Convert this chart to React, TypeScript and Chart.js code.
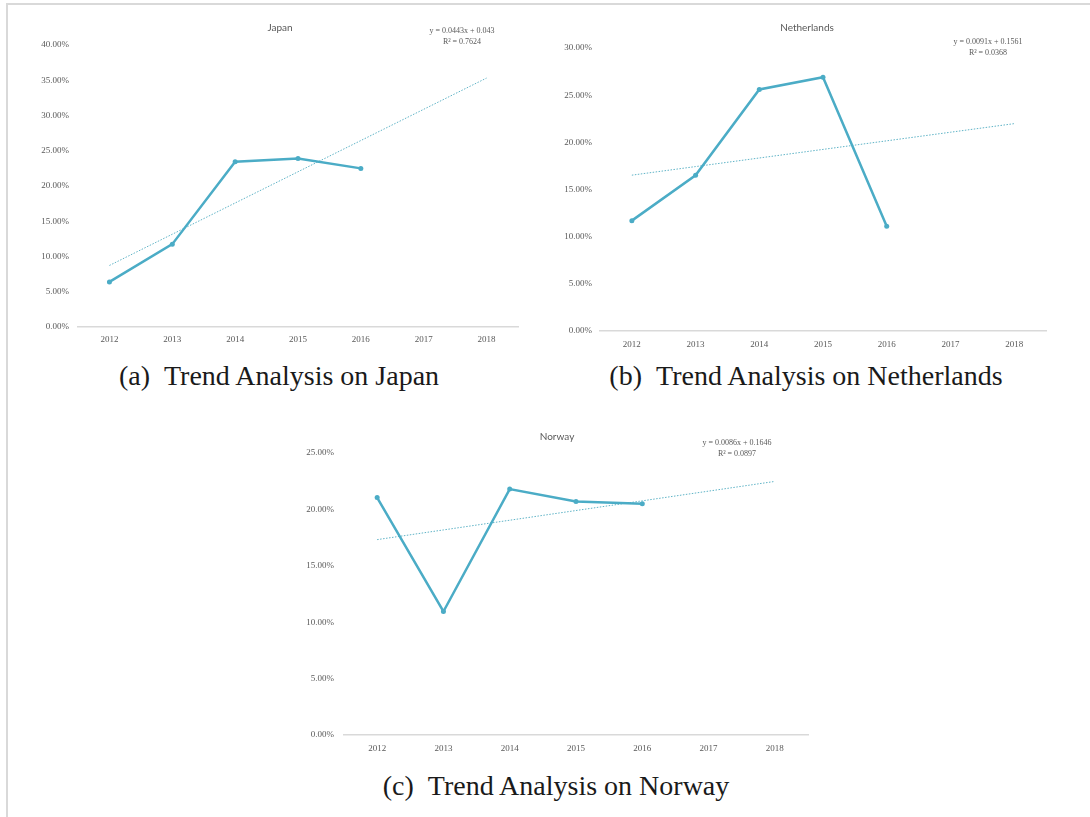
import React, { useEffect, useRef } from "react";
import { Chart, registerables } from "chart.js";

Chart.register(...registerables);

// Shared category axis
const years = ["2012", "2013", "2014", "2015", "2016", "2017", "2018"];

// Yearly values (fractions, shown as percentages)
const japanValues = [0.064, 0.1175, 0.2345, 0.239, 0.225, null, null];
const netherlandsValues = [0.117, 0.165, 0.256, 0.269, 0.111, null, null];
const norwayValues = [0.2105, 0.1095, 0.218, 0.207, 0.205, null, null];

// Linear trend lines: [slope, intercept], x = 1..7
const japanFit = [0.0443, 0.043];
const netherlandsFit = [0.0091, 0.1561];
const norwayFit = [0.0086, 0.1646];

// Coefficients of determination
const japanR2 = "0.7624";
const netherlandsR2 = "0.0368";
const norwayR2 = "0.0897";

// Y axis upper bounds
const japanMax = 0.4;
const netherlandsMax = 0.3;
const norwayMax = 0.25;

const LINE = "#4bacc6";
const TEXT = "#595959";

type Geo = {
  left: number;
  top: number;
  width: number;
  height: number;
  padLeft: number;
  padRight: number;
  padTop: number;
  padBottom: number;
  yWidth: number;
  yPad: number;
  xHeight: number;
  xPad: number;
  titleX: number;
  titleY: number;
  eqX: number;
  eqY: number;
};

const overlayPlugin = {
  id: "overlay",
  afterDraw(chart: any, _args: any, opts: any) {
    const ctx = chart.ctx;
    ctx.save();
    ctx.fillStyle = TEXT;
    ctx.textAlign = "center";
    ctx.textBaseline = "middle";
    ctx.font = "10px Lato";
    ctx.fillText(opts.title, opts.titleX, opts.titleY);
    ctx.font = "8px 'Liberation Serif'";
    ctx.fillText(opts.eq1, opts.eqX, opts.eqY);
    ctx.fillText(opts.eq2, opts.eqX, opts.eqY + 11);
    ctx.restore();
  },
};

function TrendChart(props: {
  title: string;
  values: (number | null)[];
  fit: number[];
  r2: string;
  max: number;
  geo: Geo;
}) {
  const ref = useRef<HTMLCanvasElement | null>(null);
  const { title, values, fit, r2, max, geo } = props;

  useEffect(() => {
    if (!ref.current) return;
    const trend = years.map((_, i) => fit[0] * (i + 1) + fit[1]);
    const chart = new Chart(ref.current, {
      type: "line",
      data: {
        labels: years,
        datasets: [
          {
            data: values,
            borderColor: LINE,
            backgroundColor: LINE,
            borderWidth: 2.5,
            pointRadius: 2.5,
            pointBorderWidth: 0,
            pointBackgroundColor: LINE,
            spanGaps: false,
            tension: 0,
          },
          {
            data: trend,
            borderColor: "#5fb3c6",
            borderWidth: 1,
            borderDash: [1.5, 1.5],
            pointRadius: 0,
            tension: 0,
          },
        ],
      },
      options: {
        animation: false,
        responsive: false,
        devicePixelRatio: 1,
        layout: {
          autoPadding: false,
          padding: {
            left: geo.padLeft,
            right: geo.padRight,
            top: geo.padTop,
            bottom: geo.padBottom,
          },
        },
        plugins: {
          legend: { display: false },
          tooltip: { enabled: false },
          title: { display: false },
          overlay: {
            title,
            titleX: geo.titleX,
            titleY: geo.titleY,
            eq1: `y = ${fit[0]}x + ${fit[1]}`,
            eq2: `R² = ${r2}`,
            eqX: geo.eqX,
            eqY: geo.eqY,
          },
        } as any,
        scales: {
          x: {
            offset: true,
            grid: { display: false, drawTicks: false },
            border: { display: true, color: "#d9d9d9", width: 1.5 },
            ticks: {
              padding: geo.xPad,
              color: TEXT,
              font: { family: "'Liberation Serif'", size: 9 },
              maxRotation: 0,
            },
            afterFit(scale: any) {
              scale.height = geo.xHeight;
            },
          },
          y: {
            min: 0,
            max,
            grid: { display: false, drawTicks: false },
            border: { display: false },
            ticks: {
              stepSize: 0.05,
              padding: geo.yPad,
              color: TEXT,
              font: { family: "'Liberation Serif'", size: 9 },
              callback: (v: any) => (Number(v) * 100).toFixed(2) + "%",
            },
            afterFit(scale: any) {
              scale.width = geo.yWidth;
            },
          },
        },
      },
      plugins: [overlayPlugin],
    });
    return () => chart.destroy();
  }, []);

  return (
    <canvas
      ref={ref}
      width={geo.width}
      height={geo.height}
      style={{
        position: "absolute",
        left: geo.left,
        top: geo.top,
        width: geo.width,
        height: geo.height,
      }}
    />
  );
}

const captionStyle: React.CSSProperties = {
  position: "absolute",
  transform: "translate(-50%, -50%)",
  fontFamily: "'Liberation Serif', 'Times New Roman', serif",
  fontSize: 28,
  color: "#1a1a1a",
  whiteSpace: "nowrap",
};

function Caption(props: { tag: string; text: string; x: number; y: number }) {
  return (
    <div style={{ ...captionStyle, left: props.x, top: props.y }}>
      <span style={{ marginRight: 14 }}>{props.tag}</span>
      {props.text}
    </div>
  );
}

export default function App() {
  return (
    <div
      style={{
        position: "fixed",
        left: 0,
        top: 0,
        width: 1090,
        height: 817,
        background: "#ffffff",
        overflow: "hidden",
      }}
    >
      <div
        style={{
          position: "absolute",
          left: 6,
          top: 3,
          width: 1200,
          height: 900,
          borderTop: "2px solid #d9d9d9",
          borderLeft: "2px solid #d9d9d9",
        }}
      />
      <TrendChart
        title="Japan"
        values={japanValues}
        fit={japanFit}
        r2={japanR2}
        max={japanMax}
        geo={{
          left: 0,
          top: 0,
          width: 545,
          height: 350,
          padLeft: 10,
          padRight: 27,
          padTop: 45,
          padBottom: 3,
          yWidth: 68,
          yPad: 9,
          xHeight: 20,
          xPad: 7,
          titleX: 280,
          titleY: 28,
          eqX: 462,
          eqY: 31,
        }}
      />
      <TrendChart
        title="Netherlands"
        values={netherlandsValues}
        fit={netherlandsFit}
        r2={netherlandsR2}
        max={netherlandsMax}
        geo={{
          left: 545,
          top: 0,
          width: 545,
          height: 350,
          padLeft: 5,
          padRight: 44,
          padTop: 48,
          padBottom: 3,
          yWidth: 50,
          yPad: 8,
          xHeight: 16,
          xPad: 8,
          titleX: 262,
          titleY: 28,
          eqX: 443,
          eqY: 42,
        }}
      />
      <TrendChart
        title="Norway"
        values={norwayValues}
        fit={norwayFit}
        r2={norwayR2}
        max={norwayMax}
        geo={{
          left: 290,
          top: 420,
          width: 545,
          height: 340,
          padLeft: 4,
          padRight: 27,
          padTop: 33,
          padBottom: 5,
          yWidth: 50,
          yPad: 10,
          xHeight: 20,
          xPad: 8,
          titleX: 267,
          titleY: 17,
          eqX: 447,
          eqY: 23,
        }}
      />
      <Caption tag="(a)" text="Trend Analysis on Japan" x={279} y={376} />
      <Caption tag="(b)" text="Trend Analysis on Netherlands" x={806} y={376} />
      <Caption tag="(c)" text="Trend Analysis on Norway" x={556} y={786} />
    </div>
  );
}
